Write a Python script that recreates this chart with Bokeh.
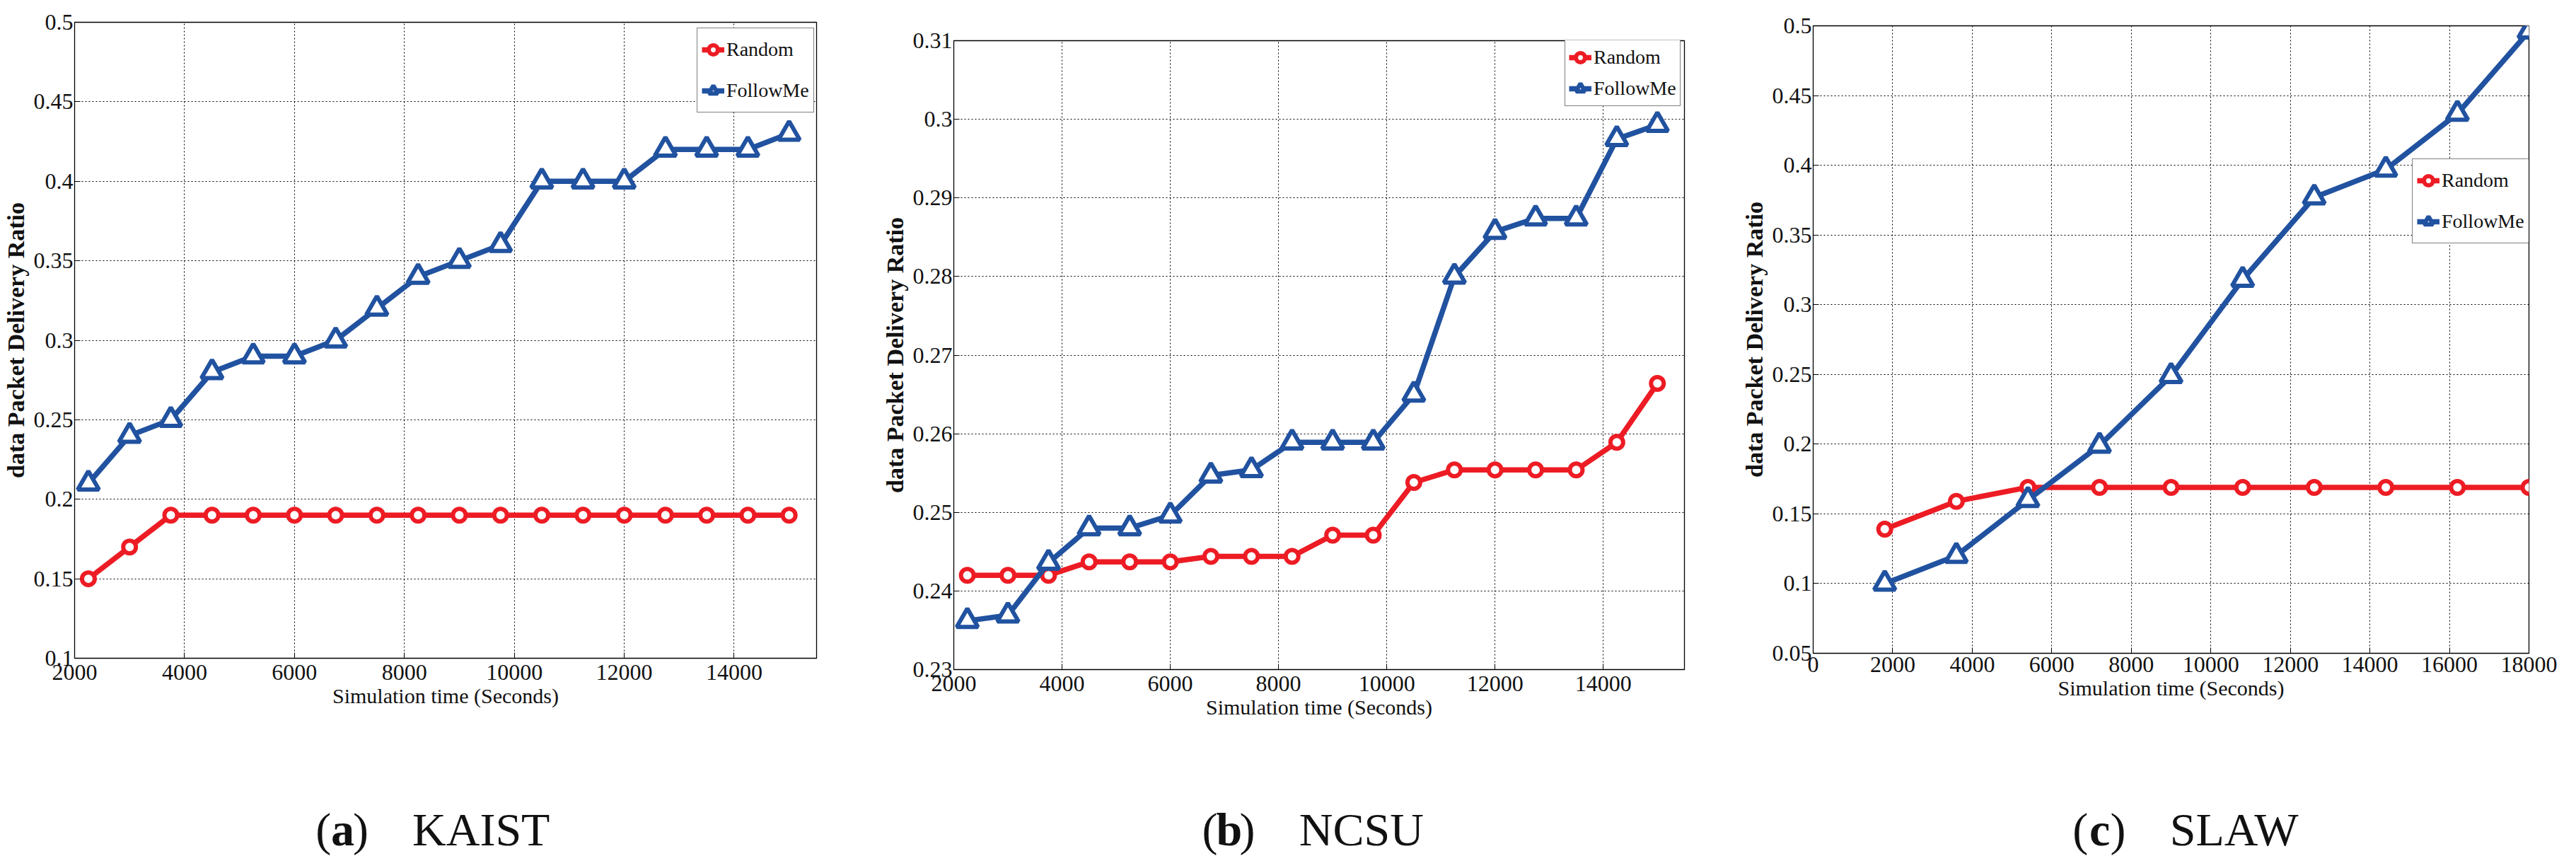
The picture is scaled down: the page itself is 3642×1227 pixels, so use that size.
from bokeh.plotting import figure
from bokeh.models import Range1d, FixedTicker, Legend, LegendItem
from bokeh.layouts import row, column
from bokeh.embed import file_html
from bokeh.resources import INLINE
from bokeh.core.properties import value

# ---------------- data ----------------
SERIES_NAMES = ["Random", "FollowMe"]

KAIST_TIME = [2250, 3000, 3750, 4500, 5250, 6000, 6750, 7500, 8250,
              9000, 9750, 10500, 11250, 12000, 12750, 13500, 14250, 15000]
KAIST_RANDOM = [0.15, 0.17, 0.19, 0.19, 0.19, 0.19, 0.19, 0.19, 0.19,
                0.19, 0.19, 0.19, 0.19, 0.19, 0.19, 0.19, 0.19, 0.19]
KAIST_FOLLOWME = [0.21, 0.24, 0.25, 0.28, 0.29, 0.29, 0.30, 0.32, 0.34,
                  0.35, 0.36, 0.40, 0.40, 0.40, 0.42, 0.42, 0.42, 0.43]
KAIST_XTICKS = [2000, 4000, 6000, 8000, 10000, 12000, 14000]
KAIST_XTICK_LABELS = ["2000", "4000", "6000", "8000", "10000", "12000", "14000"]
KAIST_YTICKS = [0.1, 0.15, 0.2, 0.25, 0.3, 0.35, 0.4, 0.45, 0.5]
KAIST_YTICK_LABELS = ["0.1", "0.15", "0.2", "0.25", "0.3", "0.35", "0.4", "0.45", "0.5"]

NCSU_TIME = [2250, 3000, 3750, 4500, 5250, 6000, 6750, 7500, 8250,
             9000, 9750, 10500, 11250, 12000, 12750, 13500, 14250, 15000]
NCSU_RANDOM = [0.2420, 0.2420, 0.2420, 0.2437, 0.2437, 0.2437, 0.2444, 0.2444, 0.2444,
               0.2471, 0.2471, 0.2538, 0.2554, 0.2554, 0.2554, 0.2554, 0.2589, 0.2664]
NCSU_FOLLOWME = [0.2362, 0.2369, 0.2436, 0.2480, 0.2480, 0.2496, 0.2547, 0.2554, 0.2589,
                 0.2589, 0.2589, 0.2650, 0.2800, 0.2857, 0.2874, 0.2874, 0.2975, 0.2993]
NCSU_XTICKS = [2000, 4000, 6000, 8000, 10000, 12000, 14000]
NCSU_XTICK_LABELS = ["2000", "4000", "6000", "8000", "10000", "12000", "14000"]
NCSU_YTICKS = [0.23, 0.24, 0.25, 0.26, 0.27, 0.28, 0.29, 0.3, 0.31]
NCSU_YTICK_LABELS = ["0.23", "0.24", "0.25", "0.26", "0.27", "0.28", "0.29", "0.3", "0.31"]

SLAW_TIME = [1800, 3600, 5400, 7200, 9000, 10800, 12600, 14400, 16200, 18000]
SLAW_RANDOM = [0.139, 0.159, 0.169, 0.169, 0.169, 0.169, 0.169, 0.169, 0.169, 0.169]
SLAW_FOLLOWME = [0.100, 0.120, 0.160, 0.199, 0.249, 0.318, 0.377, 0.397, 0.437, 0.496]
SLAW_XTICKS = [0, 2000, 4000, 6000, 8000, 10000, 12000, 14000, 16000, 18000]
SLAW_XTICK_LABELS = ["0", "2000", "4000", "6000", "8000", "10000", "12000", "14000", "16000", "18000"]
SLAW_YTICKS = [0.05, 0.1, 0.15, 0.2, 0.25, 0.3, 0.35, 0.4, 0.45, 0.5]
SLAW_YTICK_LABELS = ["0.05", "0.1", "0.15", "0.2", "0.25", "0.3", "0.35", "0.4", "0.45", "0.5"]

X_LABEL = "Simulation time (Seconds)"
Y_LABEL = "data Packet Delivery Ratio"
CAPTION_LETTERS = ["a", "b", "c"]
CAPTION_NAMES = ["KAIST", "NCSU", "SLAW"]

# ---------------- style ----------------
FONT = "Liberation Serif"
RED = "#ED1C24"
BLUE = "#2152A0"
INK = "#111111"
PLOT_H = 1082
CAP_H = 129


def make_panel(xs, rnd, fm, xrange_, yrange_, xticks, xlabels, yticks, ylabels,
               frame_w, frame_h, bl, br, bt, bb, legend_xy, legend_compact, x_standoff):
    p = figure(frame_width=frame_w, frame_height=frame_h,
               x_range=Range1d(*xrange_), y_range=Range1d(*yrange_),
               output_backend="svg", toolbar_location=None,
               min_border_left=bl, min_border_right=br,
               min_border_top=bt, min_border_bottom=bb,
               background_fill_color="white", border_fill_color="white")
    p.outline_line_color = "black"
    p.outline_line_width = 1.3

    p.xaxis.ticker = FixedTicker(ticks=xticks)
    p.xaxis.major_label_overrides = dict(zip(xticks, xlabels))
    p.yaxis.ticker = FixedTicker(ticks=yticks)
    p.yaxis.major_label_overrides = dict(zip(yticks, ylabels))

    for ax in [p.xaxis[0], p.yaxis[0]]:
        ax.major_tick_in = 8
        ax.major_tick_out = 0
        ax.minor_tick_in = 0
        ax.minor_tick_out = 0
        ax.axis_line_color = "black"
        ax.major_tick_line_color = "black"
        ax.major_label_text_font = FONT
        ax.major_label_text_font_size = "32px"
        ax.major_label_text_color = INK
        ax.axis_label_text_color = INK
        ax.axis_label_text_font = FONT

    p.xaxis.major_label_standoff = x_standoff
    p.xaxis.axis_label = X_LABEL
    p.xaxis.axis_label_text_font_size = "30px"
    p.xaxis.axis_label_text_font_style = "normal"
    p.xaxis.axis_label_standoff = 3

    p.yaxis.major_label_standoff = 2
    p.yaxis.axis_label = Y_LABEL
    p.yaxis.axis_label_text_font_size = "34px"
    p.yaxis.axis_label_text_font_style = "bold"
    p.yaxis.axis_label_standoff = 4

    p.grid.grid_line_color = "black"
    p.grid.grid_line_dash = "2 3"
    p.grid.grid_line_width = 1
    p.grid.grid_line_alpha = 1.0

    r_line = p.line(xs, rnd, line_color=RED, line_width=7.5)
    r_pts = p.scatter(xs, rnd, marker="circle", size=18, line_color=RED,
                      line_width=6, fill_color="white")
    f_line = p.line(xs, fm, line_color=BLUE, line_width=7.5)
    f_pts = p.scatter(xs, fm, marker="triangle", size=30, line_color=BLUE,
                      line_width=6, fill_color="white")

    if legend_compact:
        lg = dict(padding=5, spacing=6, label_height=38, glyph_height=36)
    else:
        lg = dict(padding=6, spacing=10, label_height=48, glyph_height=40)
    legend = Legend(items=[LegendItem(label=SERIES_NAMES[0], renderers=[r_line, r_pts]),
                           LegendItem(label=SERIES_NAMES[1], renderers=[f_line, f_pts])],
                    location=legend_xy, margin=0, glyph_width=32, label_standoff=3,
                    label_text_font=FONT, label_text_font_size="28px",
                    label_text_color=INK,
                    border_line_color="black", border_line_width=1,
                    background_fill_color="white", background_fill_alpha=1, **lg)
    p.add_layout(legend)
    return p


def make_caption(width, letter, name, x_open):
    c = figure(width=width, height=CAP_H, x_range=Range1d(0, width), y_range=Range1d(0, CAP_H),
               output_backend="svg", toolbar_location=None,
               x_axis_location=None, y_axis_location=None,
               min_border=0, min_border_left=0, min_border_right=0,
               min_border_top=0, min_border_bottom=0,
               background_fill_color="white", border_fill_color="white")
    c.outline_line_color = None
    c.grid.visible = False
    base_y = 39
    common = dict(text_font=value(FONT), text_font_size="66px",
                  text_baseline="alphabetic", text_color=INK)
    c.text(x=[x_open], y=[base_y], text=["("], text_align="left", **common)
    c.text(x=[x_open + 45], y=[base_y], text=[letter], text_align="center",
           text_font_style="bold", **common)
    c.text(x=[x_open + 88], y=[base_y], text=[")"], text_align="right", **common)
    c.text(x=[x_open + 161], y=[base_y], text=[name], text_align="left", **common)
    return c


pa = make_panel(KAIST_TIME, KAIST_RANDOM, KAIST_FOLLOWME, (2000, 15500), (0.1, 0.5),
                KAIST_XTICKS, KAIST_XTICK_LABELS, KAIST_YTICKS, KAIST_YTICK_LABELS,
                1049, 899, 103, 80, 31, PLOT_H - 31 - 899, (880, 771), False, 9)
pb = make_panel(NCSU_TIME, NCSU_RANDOM, NCSU_FOLLOWME, (2000, 15500), (0.23, 0.31),
                NCSU_XTICKS, NCSU_XTICK_LABELS, NCSU_YTICKS, NCSU_YTICK_LABELS,
                1033, 889, 114, 63, 57, PLOT_H - 57 - 889, (864, 796), True, 9)
pc = make_panel(SLAW_TIME, SLAW_RANDOM, SLAW_FOLLOWME, (0, 18000), (0.05, 0.5),
                SLAW_XTICKS, SLAW_XTICK_LABELS, SLAW_YTICKS, SLAW_YTICK_LABELS,
                1012, 887, 119, 53, 36, PLOT_H - 36 - 887, (847, 579), False, 5)

ca = make_caption(1232, CAPTION_LETTERS[0], CAPTION_NAMES[0], 401)
cb = make_caption(1210, CAPTION_LETTERS[1], CAPTION_NAMES[1], 411)
cc = make_caption(1184, CAPTION_LETTERS[2], CAPTION_NAMES[2], 429)

layout = row(column(pa, ca), column(pb, cb), column(pc, cc))
open("out.html", "w").write(file_html(layout, INLINE))
